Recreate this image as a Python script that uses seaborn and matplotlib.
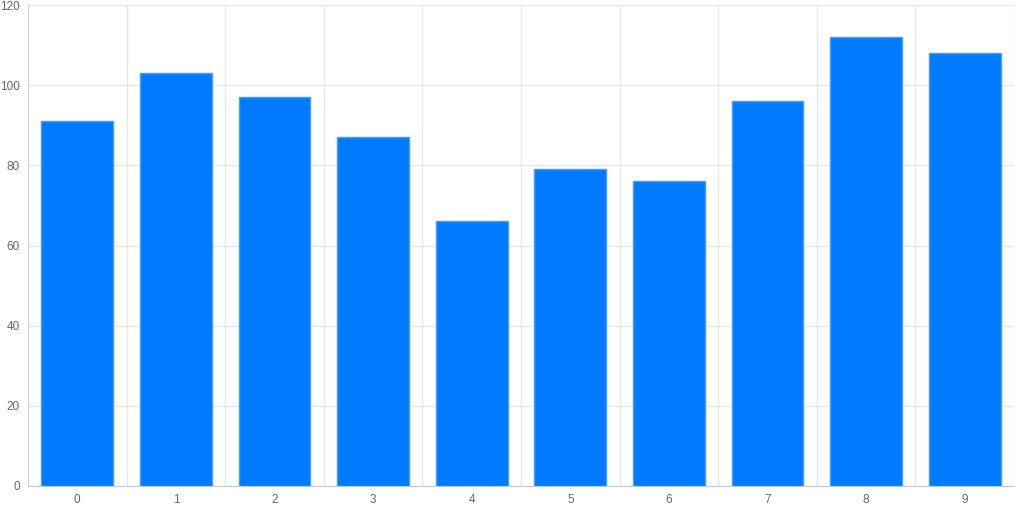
import matplotlib
matplotlib.use("Agg")
import matplotlib.pyplot as plt
import numpy as np
import pandas as pd
import seaborn as sns

# valores
categorias = [str(i) for i in range(10)]
valores = [91, 103, 97, 87, 66, 79, 76, 96, 112, 108]
y_ticks = [0, 20, 40, 60, 80, 100, 120]

df = pd.DataFrame({"categoria": categorias, "valor": valores})

sns.set_style("white")
plt.rcParams["font.family"] = ["Liberation Sans", "DejaVu Sans"]

fig = plt.figure(figsize=(10.24, 5.12), dpi=100)
ax = fig.add_axes([28 / 1024, 26 / 512, 986 / 1024, 481 / 512])

sns.barplot(data=df, x="categoria", y="valor", color="#007bff", width=0.73,
            edgecolor="#4a9dff", linewidth=1, saturation=1, ax=ax, zorder=3)

ax.set_xlim(-0.5, len(categorias) - 0.5)
ax.set_ylim(0, 120)
ax.set_yticks(y_ticks)
ax.set_xlabel("")
ax.set_ylabel("")

# linhas verticais entre categorias
ax.set_xticks(np.arange(-0.5, len(categorias), 1), minor=True)
ax.grid(True, which="minor", axis="x", color="#e6e6e6", linewidth=1, zorder=0)
ax.grid(True, which="major", axis="y", color="#e6e6e6", linewidth=1, zorder=0)
ax.tick_params(axis="x", which="major", length=0, pad=6, labelsize=8.5, labelcolor="#666666")
ax.tick_params(axis="x", which="minor", length=8, color="#e0e0e0", width=1)
ax.tick_params(axis="y", length=5, color="#e6e6e6", pad=1, labelsize=8.5, labelcolor="#666666")

for lado in ["top", "right"]:
    ax.spines[lado].set_visible(False)
ax.spines["left"].set_color("#d0d0d0")
ax.spines["bottom"].set_color("#c8c8c8")

fig.savefig("out.png", dpi=100)
plt.close(fig)
